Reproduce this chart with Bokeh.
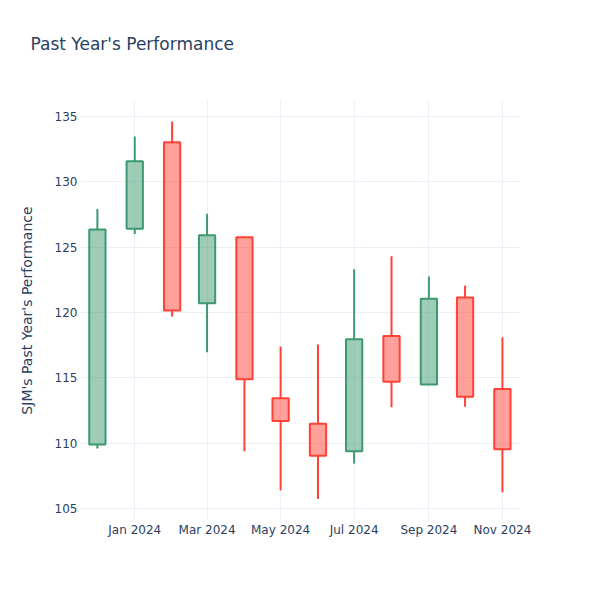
import pandas as pd
from bokeh.plotting import figure
from bokeh.models import ColumnDataSource, FixedTicker, DatetimeTickFormatter, Range1d, Title
from bokeh.embed import file_html
from bokeh.resources import INLINE

# ---- data ----
title_text = "Past Year's Performance"
dates = ["2023-12-01", "2024-01-01", "2024-02-01", "2024-03-01", "2024-04-01", "2024-05-01",
         "2024-06-01", "2024-07-01", "2024-08-01", "2024-09-01", "2024-10-01", "2024-11-01"]
opens = [109.9, 126.4, 133.0, 120.7, 125.75, 113.45, 111.5, 109.4, 118.2, 114.5, 121.15, 114.15]
closes = [126.35, 131.55, 120.15, 125.9, 114.9, 111.7, 109.05, 117.95, 114.7, 121.05, 113.55, 109.55]
highs = [127.9, 133.45, 134.6, 127.55, 125.75, 117.4, 117.55, 123.3, 124.3, 122.75, 122.05, 118.1]
lows = [109.6, 126.0, 119.7, 116.95, 109.4, 106.4, 105.75, 108.45, 112.75, 114.5, 112.8, 106.25]
tick_dates = ["2024-01-01", "2024-03-01", "2024-05-01", "2024-07-01", "2024-09-01", "2024-11-01"]
y_ticks = [105, 110, 115, 120, 125, 130, 135]

INC_LINE, INC_FILL = "#3D9970", "rgba(61,153,112,0.5)"
DEC_LINE, DEC_FILL = "#FF4136", "rgba(255,65,54,0.5)"
TXT = "#2a3f5f"
GRID = "#EBF0F8"
FONT = "DejaVu Sans"

df = pd.DataFrame({"date": pd.to_datetime(dates), "open": opens, "close": closes,
                   "high": highs, "low": lows})
df["top"] = df[["open", "close"]].max(axis=1)
df["bottom"] = df[["open", "close"]].min(axis=1)
df["line"] = [INC_LINE if c >= o else DEC_LINE for o, c in zip(df.open, df.close)]
df["fill"] = [INC_FILL if c >= o else DEC_FILL for o, c in zip(df.open, df.close)]
src = ColumnDataSource(df)

p = figure(width=600, height=600, x_axis_type="datetime", output_backend="svg",
           toolbar_location=None,
           x_range=Range1d(pd.Timestamp("2023-11-17"), pd.Timestamp("2024-11-16")),
           y_range=Range1d(104.1, 136.2),
           min_border_left=80, min_border_right=80, min_border_top=100, min_border_bottom=80)

p.title = Title(text=title_text, text_font=FONT, text_font_size="17px",
                text_font_style="normal", text_color=TXT, align="left", offset=-50, standoff=10)
# empty spacer between the title and the plot frame
p.add_layout(Title(text=" ", text_font_size="1px", standoff=39), "above")

day_ms = 86400000
body_w = 13.5 * day_ms

p.segment(x0="date", y0="top", x1="date", y1="high", source=src, line_color="line", line_width=2)
p.segment(x0="date", y0="bottom", x1="date", y1="low", source=src, line_color="line", line_width=2)
p.vbar(x="date", top="top", bottom="bottom", width=body_w, source=src,
       fill_color="fill", line_color="line", line_width=2)

p.xaxis.ticker = FixedTicker(ticks=[pd.Timestamp(d).value // 10**6 for d in tick_dates])
p.xaxis.formatter = DatetimeTickFormatter(months="%b %Y", days="%b %Y", years="%b %Y")
p.yaxis.ticker = FixedTicker(ticks=y_ticks)

for ax in (p.xaxis[0], p.yaxis[0]):
    ax.axis_line_color = None
    ax.major_tick_line_color = None
    ax.minor_tick_line_color = None
    ax.major_label_text_font = FONT
    ax.major_label_text_font_size = "12px"
    ax.major_label_text_color = TXT
p.xaxis.major_label_standoff = -4
p.yaxis.major_label_standoff = -3
p.yaxis.axis_label = "SJM's Past Year's Performance"
p.yaxis.axis_label_text_font = FONT
p.yaxis.axis_label_text_font_size = "14px"
p.yaxis.axis_label_text_font_style = "normal"
p.yaxis.axis_label_text_color = TXT
p.yaxis.axis_label_standoff = 17

p.xgrid.grid_line_color = GRID
p.ygrid.grid_line_color = GRID
p.xgrid.grid_line_width = 1
p.ygrid.grid_line_width = 1
p.outline_line_color = None
p.background_fill_color = "white"
p.border_fill_color = "white"

open("out.html", "w").write(file_html(p, INLINE))
